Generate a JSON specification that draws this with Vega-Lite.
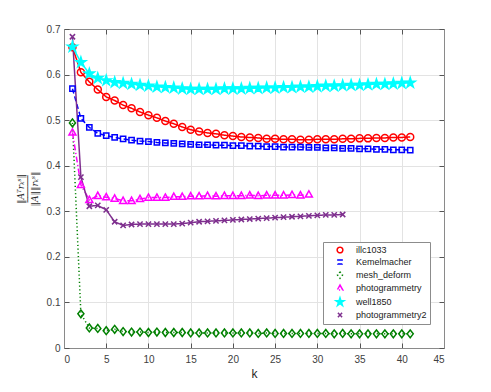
{
"$schema":"https://vega.github.io/schema/vega-lite/v6.json",
"autosize":"none","width":380,"height":319,
"padding":{"left":64,"top":29,"right":47,"bottom":44},
"background":"white",
"config":{"font":"Liberation Sans","view":{"stroke":null}},
"data":{"values":[
{"series":"illc1033","k":1,"value":0.660},{"series":"illc1033","k":2,"value":0.605},{"series":"illc1033","k":3,"value":0.584},{"series":"illc1033","k":4,"value":0.567},{"series":"illc1033","k":5,"value":0.551},{"series":"illc1033","k":6,"value":0.543},{"series":"illc1033","k":7,"value":0.533},{"series":"illc1033","k":8,"value":0.526},{"series":"illc1033","k":9,"value":0.518},{"series":"illc1033","k":10,"value":0.511},{"series":"illc1033","k":11,"value":0.505},{"series":"illc1033","k":12,"value":0.498},{"series":"illc1033","k":13,"value":0.492},{"series":"illc1033","k":14,"value":0.485},{"series":"illc1033","k":15,"value":0.479},{"series":"illc1033","k":16,"value":0.475},{"series":"illc1033","k":17,"value":0.472},{"series":"illc1033","k":18,"value":0.470},{"series":"illc1033","k":19,"value":0.467},{"series":"illc1033","k":20,"value":0.465},{"series":"illc1033","k":21,"value":0.463},{"series":"illc1033","k":22,"value":0.462},{"series":"illc1033","k":23,"value":0.461},{"series":"illc1033","k":24,"value":0.459},{"series":"illc1033","k":25,"value":0.459},{"series":"illc1033","k":26,"value":0.458},{"series":"illc1033","k":27,"value":0.458},{"series":"illc1033","k":28,"value":0.457},{"series":"illc1033","k":29,"value":0.457},{"series":"illc1033","k":30,"value":0.458},{"series":"illc1033","k":31,"value":0.458},{"series":"illc1033","k":32,"value":0.458},{"series":"illc1033","k":33,"value":0.459},{"series":"illc1033","k":34,"value":0.459},{"series":"illc1033","k":35,"value":0.460},{"series":"illc1033","k":36,"value":0.460},{"series":"illc1033","k":37,"value":0.461},{"series":"illc1033","k":38,"value":0.461},{"series":"illc1033","k":39,"value":0.462},{"series":"illc1033","k":40,"value":0.462},{"series":"illc1033","k":41,"value":0.463},
{"series":"Kemelmacher","k":1,"value":0.569},{"series":"Kemelmacher","k":2,"value":0.504},{"series":"Kemelmacher","k":3,"value":0.484},{"series":"Kemelmacher","k":4,"value":0.471},{"series":"Kemelmacher","k":5,"value":0.466},{"series":"Kemelmacher","k":6,"value":0.462},{"series":"Kemelmacher","k":7,"value":0.459},{"series":"Kemelmacher","k":8,"value":0.456},{"series":"Kemelmacher","k":9,"value":0.454},{"series":"Kemelmacher","k":10,"value":0.453},{"series":"Kemelmacher","k":11,"value":0.451},{"series":"Kemelmacher","k":12,"value":0.450},{"series":"Kemelmacher","k":13,"value":0.449},{"series":"Kemelmacher","k":14,"value":0.448},{"series":"Kemelmacher","k":15,"value":0.447},{"series":"Kemelmacher","k":16,"value":0.446},{"series":"Kemelmacher","k":17,"value":0.446},{"series":"Kemelmacher","k":18,"value":0.445},{"series":"Kemelmacher","k":19,"value":0.445},{"series":"Kemelmacher","k":20,"value":0.444},{"series":"Kemelmacher","k":21,"value":0.444},{"series":"Kemelmacher","k":22,"value":0.443},{"series":"Kemelmacher","k":23,"value":0.443},{"series":"Kemelmacher","k":24,"value":0.442},{"series":"Kemelmacher","k":25,"value":0.442},{"series":"Kemelmacher","k":26,"value":0.441},{"series":"Kemelmacher","k":27,"value":0.441},{"series":"Kemelmacher","k":28,"value":0.441},{"series":"Kemelmacher","k":29,"value":0.440},{"series":"Kemelmacher","k":30,"value":0.440},{"series":"Kemelmacher","k":31,"value":0.439},{"series":"Kemelmacher","k":32,"value":0.439},{"series":"Kemelmacher","k":33,"value":0.438},{"series":"Kemelmacher","k":34,"value":0.438},{"series":"Kemelmacher","k":35,"value":0.437},{"series":"Kemelmacher","k":36,"value":0.437},{"series":"Kemelmacher","k":37,"value":0.436},{"series":"Kemelmacher","k":38,"value":0.436},{"series":"Kemelmacher","k":39,"value":0.435},{"series":"Kemelmacher","k":40,"value":0.435},{"series":"Kemelmacher","k":41,"value":0.434},
{"series":"mesh_deform","k":1,"value":0.494},{"series":"mesh_deform","k":2,"value":0.075},{"series":"mesh_deform","k":3,"value":0.044},{"series":"mesh_deform","k":4,"value":0.043},{"series":"mesh_deform","k":5,"value":0.038},{"series":"mesh_deform","k":6,"value":0.041},{"series":"mesh_deform","k":7,"value":0.036},{"series":"mesh_deform","k":8,"value":0.035},{"series":"mesh_deform","k":9,"value":0.035},{"series":"mesh_deform","k":10,"value":0.034},{"series":"mesh_deform","k":11,"value":0.035},{"series":"mesh_deform","k":12,"value":0.034},{"series":"mesh_deform","k":13,"value":0.034},{"series":"mesh_deform","k":14,"value":0.034},{"series":"mesh_deform","k":15,"value":0.033},{"series":"mesh_deform","k":16,"value":0.033},{"series":"mesh_deform","k":17,"value":0.033},{"series":"mesh_deform","k":18,"value":0.033},{"series":"mesh_deform","k":19,"value":0.033},{"series":"mesh_deform","k":20,"value":0.033},{"series":"mesh_deform","k":21,"value":0.033},{"series":"mesh_deform","k":22,"value":0.033},{"series":"mesh_deform","k":23,"value":0.032},{"series":"mesh_deform","k":24,"value":0.033},{"series":"mesh_deform","k":25,"value":0.032},{"series":"mesh_deform","k":26,"value":0.032},{"series":"mesh_deform","k":27,"value":0.032},{"series":"mesh_deform","k":28,"value":0.032},{"series":"mesh_deform","k":29,"value":0.032},{"series":"mesh_deform","k":30,"value":0.032},{"series":"mesh_deform","k":31,"value":0.032},{"series":"mesh_deform","k":32,"value":0.031},{"series":"mesh_deform","k":33,"value":0.032},{"series":"mesh_deform","k":34,"value":0.031},{"series":"mesh_deform","k":35,"value":0.031},{"series":"mesh_deform","k":36,"value":0.031},{"series":"mesh_deform","k":37,"value":0.031},{"series":"mesh_deform","k":38,"value":0.031},{"series":"mesh_deform","k":39,"value":0.031},{"series":"mesh_deform","k":40,"value":0.031},{"series":"mesh_deform","k":41,"value":0.031},
{"series":"photogrammetry","k":1,"value":0.473},{"series":"photogrammetry","k":2,"value":0.358},{"series":"photogrammetry","k":3,"value":0.325},{"series":"photogrammetry","k":4,"value":0.334},{"series":"photogrammetry","k":5,"value":0.331},{"series":"photogrammetry","k":6,"value":0.328},{"series":"photogrammetry","k":7,"value":0.323},{"series":"photogrammetry","k":8,"value":0.323},{"series":"photogrammetry","k":9,"value":0.327},{"series":"photogrammetry","k":10,"value":0.330},{"series":"photogrammetry","k":11,"value":0.330},{"series":"photogrammetry","k":12,"value":0.330},{"series":"photogrammetry","k":13,"value":0.332},{"series":"photogrammetry","k":14,"value":0.332},{"series":"photogrammetry","k":15,"value":0.333},{"series":"photogrammetry","k":16,"value":0.333},{"series":"photogrammetry","k":17,"value":0.334},{"series":"photogrammetry","k":18,"value":0.333},{"series":"photogrammetry","k":19,"value":0.334},{"series":"photogrammetry","k":20,"value":0.334},{"series":"photogrammetry","k":21,"value":0.334},{"series":"photogrammetry","k":22,"value":0.335},{"series":"photogrammetry","k":23,"value":0.334},{"series":"photogrammetry","k":24,"value":0.335},{"series":"photogrammetry","k":25,"value":0.335},{"series":"photogrammetry","k":26,"value":0.335},{"series":"photogrammetry","k":27,"value":0.336},{"series":"photogrammetry","k":28,"value":0.335},{"series":"photogrammetry","k":29,"value":0.337},
{"series":"well1850","k":1,"value":0.661},{"series":"well1850","k":2,"value":0.627},{"series":"well1850","k":3,"value":0.602},{"series":"well1850","k":4,"value":0.592},{"series":"well1850","k":5,"value":0.587},{"series":"well1850","k":6,"value":0.583},{"series":"well1850","k":7,"value":0.581},{"series":"well1850","k":8,"value":0.579},{"series":"well1850","k":9,"value":0.577},{"series":"well1850","k":10,"value":0.575},{"series":"well1850","k":11,"value":0.573},{"series":"well1850","k":12,"value":0.572},{"series":"well1850","k":13,"value":0.571},{"series":"well1850","k":14,"value":0.569},{"series":"well1850","k":15,"value":0.568},{"series":"well1850","k":16,"value":0.568},{"series":"well1850","k":17,"value":0.568},{"series":"well1850","k":18,"value":0.568},{"series":"well1850","k":19,"value":0.569},{"series":"well1850","k":20,"value":0.569},{"series":"well1850","k":21,"value":0.569},{"series":"well1850","k":22,"value":0.570},{"series":"well1850","k":23,"value":0.570},{"series":"well1850","k":24,"value":0.571},{"series":"well1850","k":25,"value":0.571},{"series":"well1850","k":26,"value":0.572},{"series":"well1850","k":27,"value":0.572},{"series":"well1850","k":28,"value":0.573},{"series":"well1850","k":29,"value":0.573},{"series":"well1850","k":30,"value":0.574},{"series":"well1850","k":31,"value":0.575},{"series":"well1850","k":32,"value":0.575},{"series":"well1850","k":33,"value":0.576},{"series":"well1850","k":34,"value":0.577},{"series":"well1850","k":35,"value":0.577},{"series":"well1850","k":36,"value":0.578},{"series":"well1850","k":37,"value":0.579},{"series":"well1850","k":38,"value":0.579},{"series":"well1850","k":39,"value":0.580},{"series":"well1850","k":40,"value":0.581},{"series":"well1850","k":41,"value":0.582},
{"series":"photogrammetry2","k":1,"value":0.683},{"series":"photogrammetry2","k":2,"value":0.375},{"series":"photogrammetry2","k":3,"value":0.311},{"series":"photogrammetry2","k":4,"value":0.313},{"series":"photogrammetry2","k":5,"value":0.303},{"series":"photogrammetry2","k":6,"value":0.277},{"series":"photogrammetry2","k":7,"value":0.269},{"series":"photogrammetry2","k":8,"value":0.271},{"series":"photogrammetry2","k":9,"value":0.272},{"series":"photogrammetry2","k":10,"value":0.272},{"series":"photogrammetry2","k":11,"value":0.272},{"series":"photogrammetry2","k":12,"value":0.272},{"series":"photogrammetry2","k":13,"value":0.272},{"series":"photogrammetry2","k":14,"value":0.273},{"series":"photogrammetry2","k":15,"value":0.275},{"series":"photogrammetry2","k":16,"value":0.277},{"series":"photogrammetry2","k":17,"value":0.278},{"series":"photogrammetry2","k":18,"value":0.279},{"series":"photogrammetry2","k":19,"value":0.280},{"series":"photogrammetry2","k":20,"value":0.281},{"series":"photogrammetry2","k":21,"value":0.282},{"series":"photogrammetry2","k":22,"value":0.283},{"series":"photogrammetry2","k":23,"value":0.284},{"series":"photogrammetry2","k":24,"value":0.285},{"series":"photogrammetry2","k":25,"value":0.286},{"series":"photogrammetry2","k":26,"value":0.287},{"series":"photogrammetry2","k":27,"value":0.288},{"series":"photogrammetry2","k":28,"value":0.289},{"series":"photogrammetry2","k":29,"value":0.290},{"series":"photogrammetry2","k":30,"value":0.291},{"series":"photogrammetry2","k":31,"value":0.292},{"series":"photogrammetry2","k":32,"value":0.292},{"series":"photogrammetry2","k":33,"value":0.293}
]},
"layer":[
{"mark":{"type":"line","strokeWidth":1.5},
 "encoding":{
  "x":{"field":"k","type":"quantitative","scale":{"domain":[0,45],"nice":false,"zero":false},
       "axis":{"orient":"bottom","values":[0,5,10,15,20,25,30,35,40,45],"grid":true,"gridColor":"#e3e3e3","domainColor":"#8a8a8a","tickColor":"#555555","tickSize":-5,"labelPadding":11,"labelFontSize":10,"labelColor":"#404040","labelFont":"Liberation Sans","title":"k","titleFontSize":12,"titleFontWeight":"normal","titleColor":"#262626","titlePadding":4}},
  "y":{"field":"value","type":"quantitative","scale":{"domain":[0,0.7],"nice":false},
       "axis":{"orient":"left","values":[0,0.1,0.2,0.3,0.4,0.5,0.6,0.7],"format":"~g","grid":true,"gridColor":"#e3e3e3","domainColor":"#8a8a8a","tickColor":"#555555","tickSize":-5,"labelPadding":9,"labelFontSize":10,"labelColor":"#404040","labelFont":"Liberation Sans",
       "title":["‖Aᵀrₖˢ‖","─────","‖A‖‖rₖˢ‖"],"titleFont":"DejaVu Serif","titleFontStyle":"italic","titleFontSize":9,"titleLineHeight":7,"titleFontWeight":"normal","titleColor":"#262626","titlePadding":7}},
  "stroke":{"field":"series","type":"nominal",
    "scale":{"domain":["illc1033","Kemelmacher","mesh_deform","photogrammetry","well1850","photogrammetry2"],"range":["#ff0000","#0000ff","#008000","#ff00ff","#00ffff","#7e2f8e"]}},
  "strokeDash":{"field":"series","type":"nominal","legend":null,
    "scale":{"domain":["illc1033","Kemelmacher","mesh_deform","photogrammetry","well1850","photogrammetry2"],"range":[[1,0],[5,3],[1.2,2.5],[6,2.5,1.2,2.5],[1,0],[1,0]]}}
 }},
{"mark":{"type":"point","filled":false,"strokeWidth":1.5,"size":110,"opacity":1},
 "encoding":{
  "x":{"field":"k","type":"quantitative","axis":{"orient":"top","values":[0,5,10,15,20,25,30,35,40,45],"labels":false,"grid":false,"domainColor":"#8a8a8a","tickColor":"#555555","tickSize":-5,"title":null}},
  "y":{"field":"value","type":"quantitative","axis":{"orient":"right","values":[0,0.1,0.2,0.3,0.4,0.5,0.6,0.7],"labels":false,"grid":false,"domainColor":"#8a8a8a","tickColor":"#555555","tickSize":-5,"title":null}},
  "stroke":{"field":"series","type":"nominal",
    "scale":{"domain":["illc1033","Kemelmacher","mesh_deform","photogrammetry","well1850","photogrammetry2"],"range":["#ff0000","#0000ff","#008000","#ff00ff","#00ffff","#7e2f8e"]},
    "legend":{"orient":"none","legendX":259,"legendY":213,"title":null,"symbolSize":72,"padding":3,"rowPadding":0,"labelFontSize":9,"labelFont":"Liberation Sans","labelColor":"#1a1a1a","symbolOffset":9,"labelOffset":11,"strokeColor":"#8c8c8c","fillColor":"white","symbolStrokeWidth":1.5,"symbolOpacity":1}},
  "fill":{"field":"series","type":"nominal","legend":null,
    "scale":{"domain":["illc1033","Kemelmacher","mesh_deform","photogrammetry","well1850","photogrammetry2"],"range":["transparent","transparent","transparent","transparent","#00ffff","transparent"]}},
  "shape":{"field":"series","type":"nominal","legend":null,
    "scale":{"domain":["illc1033","Kemelmacher","mesh_deform","photogrammetry","well1850","photogrammetry2"],"range":["M0.667,0A0.667,0.667,0,1,1,-0.667,0A0.667,0.667,0,1,1,0.667,0Z","M-0.5,-0.5H0.5V0.5H-0.5Z","M0,-0.75L0.58,0L0,0.75L-0.58,0Z","M0,-0.7L0.667,0.5L-0.667,0.5Z","M0,-1L0.2245,-0.309L0.951,-0.309L0.363,0.118L0.588,0.809L0,0.382L-0.588,0.809L-0.363,0.118L-0.951,-0.309L-0.2245,-0.309Z","M-0.5,-0.5L0.5,0.5M-0.5,0.5L0.5,-0.5"]}}
 }}
],
"resolve":{"axis":{"x":"independent","y":"independent"}}
}
